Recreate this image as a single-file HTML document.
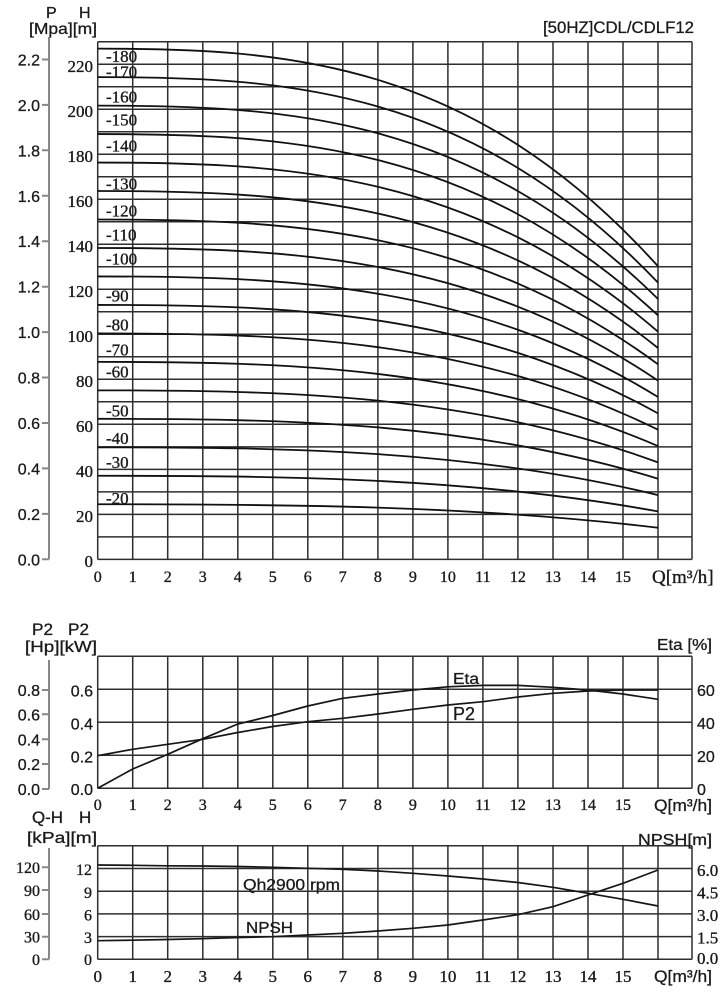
<!DOCTYPE html>
<html><head><meta charset="utf-8"><style>
html,body{margin:0;padding:0;background:#fff;}
svg{display:block;}
.s{font-family:"Liberation Sans",Arial,sans-serif;fill:#1a1a1a;stroke:#1a1a1a;stroke-width:0.3;}
.r{font-family:"Liberation Serif","Times New Roman",serif;fill:#1a1a1a;stroke:#1a1a1a;stroke-width:0.35;}
</style></head><body>
<svg width="728" height="1000" viewBox="0 0 728 1000" xmlns="http://www.w3.org/2000/svg">
<rect width="728" height="1000" fill="#fff"/>

<!-- ============ TOP CHART ============ -->
<g stroke="#2e2e2e" stroke-width="1.5" fill="none">
<path d="M97.7 559.4H692M97.7 536.9H692M97.7 514.4H692M97.7 491.9H692M97.7 469.4H692M97.7 446.9H692M97.7 424.3H692M97.7 401.8H692M97.7 379.3H692M97.7 356.8H692M97.7 334.3H692M97.7 311.8H692M97.7 289.3H692M97.7 266.8H692M97.7 244.3H692M97.7 221.8H692M97.7 199.2H692M97.7 176.7H692M97.7 154.2H692M97.7 131.7H692M97.7 109.2H692M97.7 86.7H692M97.7 64.2H692M97.7 41.7H692"/>
<path d="M97.7 41.7V559.4M132.7 41.7V559.4M167.7 41.7V559.4M202.8 41.7V559.4M237.8 41.7V559.4M272.8 41.7V559.4M307.8 41.7V559.4M342.8 41.7V559.4M377.9 41.7V559.4M412.9 41.7V559.4M447.9 41.7V559.4M482.9 41.7V559.4M517.9 41.7V559.4M553 41.7V559.4M588 41.7V559.4M623 41.7V559.4M658 41.7V559.4M692 41.7V559.4"/>
</g>
<g stroke="#111" stroke-width="1.8" fill="none">
<path d="M97.7 504.25C284.5 504.25 471.2 505.39 658 527.75"/>
<path d="M97.7 475.78C284.5 475.78 471.2 477.51 658 511.41"/>
<path d="M97.7 447.3C284.5 447.3 471.2 449.62 658 495.07"/>
<path d="M97.7 418.82C284.5 418.82 471.2 421.73 658 478.72"/>
<path d="M97.7 390.35C284.5 390.35 471.2 393.84 658 462.38"/>
<path d="M97.7 361.88C284.5 361.88 471.2 365.96 658 446.04"/>
<path d="M97.7 333.4C284.5 333.4 471.2 338.07 658 429.7"/>
<path d="M97.7 304.93C284.5 304.93 471.2 310.19 658 413.36"/>
<path d="M97.7 276.45C284.5 276.45 471.2 282.3 658 397.01"/>
<path d="M97.7 247.97C284.5 247.97 471.2 254.41 658 380.67"/>
<path d="M97.7 219.5C284.5 219.5 471.2 226.53 658 364.33"/>
<path d="M97.7 191.02C284.5 191.02 471.2 198.63 658 347.99"/>
<path d="M97.7 162.55C284.5 162.55 471.2 170.75 658 331.65"/>
<path d="M97.7 134.07C284.5 134.07 471.2 142.86 658 315.3"/>
<path d="M97.7 105.6C284.5 105.6 471.2 114.98 658 298.96"/>
<path d="M97.7 77.12C284.5 77.12 471.2 87.09 658 282.62"/>
<path d="M97.7 48.65C284.5 48.65 471.2 59.21 658 266.28"/>
</g>
<!-- stage labels -->
<g class="r" font-size="17">
<text x="106" y="62">-180</text>
<text x="106" y="77.5">-170</text>
<text x="106" y="102.5">-160</text>
<text x="106" y="125.5">-150</text>
<text x="106" y="151.5">-140</text>
<text x="106" y="189.5">-130</text>
<text x="106" y="216.5">-120</text>
<text x="106" y="240.5">-110</text>
<text x="106" y="264.5">-100</text>
<text x="106" y="301.5">-90</text>
<text x="106" y="330.5">-80</text>
<text x="106" y="355.5">-70</text>
<text x="106" y="377.5">-60</text>
<text x="106" y="416.5">-50</text>
<text x="106" y="444">-40</text>
<text x="106" y="468">-30</text>
<text x="106" y="504">-20</text>
</g>
<!-- P axis -->
<g stroke="#888" stroke-width="2" fill="none">
<path d="M49 37V559.3"/>
<path d="M42 559.3H49M42 513.9H49M42 468.4H49M42 423H49M42 377.5H49M42 332.1H49M42 286.7H49M42 241.2H49M42 195.8H49M42 150.3H49M42 104.9H49M42 59.5H49"/>
</g>
<g class="s" font-size="16" text-anchor="end">
<text x="40" y="565.3">0.0</text>
<text x="40" y="519.9">0.2</text>
<text x="40" y="474.4">0.4</text>
<text x="40" y="429">0.6</text>
<text x="40" y="383.5">0.8</text>
<text x="40" y="338.1">1.0</text>
<text x="40" y="292.7">1.2</text>
<text x="40" y="247.2">1.4</text>
<text x="40" y="201.8">1.6</text>
<text x="40" y="156.3">1.8</text>
<text x="40" y="110.9">2.0</text>
<text x="40" y="65.5">2.2</text>
</g>
<g class="r" font-size="17" text-anchor="end">
<text x="93" y="567">0</text>
<text x="93" y="522">20</text>
<text x="93" y="477">40</text>
<text x="93" y="432">60</text>
<text x="93" y="387">80</text>
<text x="93" y="342">100</text>
<text x="93" y="297">120</text>
<text x="93" y="252">140</text>
<text x="93" y="207">160</text>
<text x="93" y="162">180</text>
<text x="93" y="117">200</text>
<text x="93" y="72">220</text>
</g>
<text class="s" x="46" y="18" font-size="16">P</text>
<text class="s" x="79" y="18" font-size="16">H</text>
<text class="s" x="29" y="34" font-size="16" textLength="68" lengthAdjust="spacingAndGlyphs">[Mpa][m]</text>
<text class="s" x="543" y="33" font-size="17" textLength="151" lengthAdjust="spacingAndGlyphs">[50HZ]CDL/CDLF12</text>
<g class="r" font-size="16" text-anchor="middle">
<text x="97.7" y="582">0</text><text x="132.7" y="582">1</text><text x="167.7" y="582">2</text><text x="202.8" y="582">3</text><text x="237.8" y="582">4</text><text x="272.8" y="582">5</text><text x="307.8" y="582">6</text><text x="342.8" y="582">7</text><text x="377.9" y="582">8</text><text x="412.9" y="582">9</text><text x="447.9" y="582">10</text><text x="482.9" y="582">11</text><text x="517.9" y="582">12</text><text x="553" y="582">13</text><text x="588" y="582">14</text><text x="623" y="582">15</text>
</g>
<text class="r" x="652" y="583" font-size="19">Q[m³/h]</text>

<!-- ============ MIDDLE CHART ============ -->
<g stroke="#2e2e2e" stroke-width="1.5" fill="none">
<path d="M97.7 656.3H692M97.7 689.3H692M97.7 722.3H692M97.7 755.3H692M97.7 788.3H692"/>
<path d="M97.7 656.3V788.3M132.7 656.3V788.3M167.7 656.3V788.3M202.8 656.3V788.3M237.8 656.3V788.3M272.8 656.3V788.3M307.8 656.3V788.3M342.8 656.3V788.3M377.9 656.3V788.3M412.9 656.3V788.3M447.9 656.3V788.3M482.9 656.3V788.3M517.9 656.3V788.3M553 656.3V788.3M588 656.3V788.3M623 656.3V788.3M658 656.3V788.3M692 656.3V788.3"/>
</g>
<g stroke="#161616" stroke-width="1.7" fill="none" stroke-linejoin="round">
<polyline points="97.7,788.3 132.7,769 167.7,754.3 202.8,738.7 237.8,724 272.8,715.5 307.8,706 342.8,698.3 377.9,694 412.9,690 447.9,686.8 482.9,685.4 517.9,685.4 553,687.3 588,690 623,694 658,699.3"/>
<polyline points="97.7,755.7 132.7,749.3 167.7,744.3 202.8,739.3 237.8,732.5 272.8,726.5 307.8,721.7 342.8,718.3 377.9,714 412.9,709.3 447.9,705 482.9,701.7 517.9,697 553,693.3 588,691 623,690 658,690"/>
</g>
<text class="s" x="453" y="684" font-size="16" textLength="26" lengthAdjust="spacingAndGlyphs">Eta</text>
<text class="s" x="453" y="720" font-size="18" textLength="22" lengthAdjust="spacingAndGlyphs">P2</text>
<g stroke="#888" stroke-width="2" fill="none">
<path d="M49 660V789"/>
<path d="M42 690H49M42 714.3H49M42 739.3H49M42 764H49M42 789H49"/>
</g>
<g class="s" font-size="16" text-anchor="end">
<text x="40" y="696">0.8</text>
<text x="40" y="720.3">0.6</text>
<text x="40" y="745.3">0.4</text>
<text x="40" y="770">0.2</text>
<text x="40" y="795">0.0</text>
<text x="93" y="696.5">0.6</text>
<text x="93" y="729.5">0.4</text>
<text x="93" y="762.5">0.2</text>
<text x="93" y="795">0.0</text>
</g>
<g class="s" font-size="16">
<text x="697" y="696">60</text>
<text x="697" y="729">40</text>
<text x="697" y="762">20</text>
<text x="697" y="795">0</text>
</g>
<text class="s" x="32" y="635" font-size="17" textLength="21" lengthAdjust="spacingAndGlyphs">P2</text>
<text class="s" x="68" y="635" font-size="17" textLength="21" lengthAdjust="spacingAndGlyphs">P2</text>
<text class="s" x="25" y="652" font-size="16" textLength="72" lengthAdjust="spacingAndGlyphs">[Hp][kW]</text>
<text class="s" x="657" y="650" font-size="16" textLength="55" lengthAdjust="spacingAndGlyphs">Eta [%]</text>
<g class="r" font-size="16" text-anchor="middle">
<text x="97.7" y="810">0</text><text x="132.7" y="810">1</text><text x="167.7" y="810">2</text><text x="202.8" y="810">3</text><text x="237.8" y="810">4</text><text x="272.8" y="810">5</text><text x="307.8" y="810">6</text><text x="342.8" y="810">7</text><text x="377.9" y="810">8</text><text x="412.9" y="810">9</text><text x="447.9" y="810">10</text><text x="482.9" y="810">11</text><text x="517.9" y="810">12</text><text x="553" y="810">13</text><text x="588" y="810">14</text><text x="623" y="810">15</text>
</g>
<text class="s" x="654" y="811" font-size="17" textLength="58" lengthAdjust="spacingAndGlyphs">Q[m³/h]</text>

<!-- ============ BOTTOM CHART ============ -->
<g stroke="#2e2e2e" stroke-width="1.5" fill="none">
<path d="M97.7 845.8H692M97.7 868.5H692M97.7 891.2H692M97.7 913.9H692M97.7 936.6H692M97.7 959.3H692"/>
<path d="M97.7 845.8V959.3M132.7 845.8V959.3M167.7 845.8V959.3M202.8 845.8V959.3M237.8 845.8V959.3M272.8 845.8V959.3M307.8 845.8V959.3M342.8 845.8V959.3M377.9 845.8V959.3M412.9 845.8V959.3M447.9 845.8V959.3M482.9 845.8V959.3M517.9 845.8V959.3M553 845.8V959.3M588 845.8V959.3M623 845.8V959.3M658 845.8V959.3M692 845.8V959.3"/>
</g>
<g stroke="#161616" stroke-width="1.7" fill="none" stroke-linejoin="round">
<polyline points="97.7,865 132.7,865.3 167.7,865.8 202.8,866 237.8,866.5 272.8,867.3 307.8,868.3 342.8,869.3 377.9,871 412.9,873.3 447.9,876 482.9,879 517.9,882.5 553,887.3 588,893.3 623,899.3 658,906"/>
<polyline points="97.7,940.7 132.7,940.2 167.7,939.5 202.8,938.7 237.8,937.5 272.8,936.7 307.8,935 342.8,933.3 377.9,931 412.9,928.3 447.9,925 482.9,920 517.9,914.7 553,906.7 588,895 623,883.3 658,870"/>
</g>
<text class="s" x="243" y="890" font-size="16" textLength="97" lengthAdjust="spacingAndGlyphs">Qh2900 rpm</text>
<text class="s" x="246" y="933" font-size="16" textLength="47" lengthAdjust="spacingAndGlyphs">NPSH</text>
<g stroke="#888" stroke-width="2" fill="none">
<path d="M49 848V959.3"/>
<path d="M42 867.3H49M42 890H49M42 914H49M42 936.7H49M42 959.3H49"/>
</g>
<g class="r" font-size="16" text-anchor="end">
<text x="40" y="873">120</text>
<text x="40" y="896">90</text>
<text x="40" y="920">60</text>
<text x="40" y="942.7">30</text>
<text x="40" y="965">0</text>
<text x="92" y="875">12</text>
<text x="92" y="898">9</text>
<text x="92" y="920.5">6</text>
<text x="92" y="943">3</text>
<text x="92" y="965">0</text>
</g>
<g class="r" font-size="17">
<text x="697" y="876">6.0</text>
<text x="697" y="898.5">4.5</text>
<text x="697" y="921">3.0</text>
<text x="697" y="943.5">1.5</text>
<text x="697" y="964">0.0</text>
</g>
<text class="s" x="32" y="823" font-size="17" textLength="31" lengthAdjust="spacingAndGlyphs">Q-H</text>
<text class="s" x="79" y="823" font-size="17">H</text>
<text class="s" x="27" y="843" font-size="16" textLength="70" lengthAdjust="spacingAndGlyphs">[kPa][m]</text>
<text class="s" x="638" y="845" font-size="16" textLength="74" lengthAdjust="spacingAndGlyphs">NPSH[m]</text>
<g class="r" font-size="17" text-anchor="middle">
<text x="97.7" y="982">0</text><text x="132.7" y="982">1</text><text x="167.7" y="982">2</text><text x="202.8" y="982">3</text><text x="237.8" y="982">4</text><text x="272.8" y="982">5</text><text x="307.8" y="982">6</text><text x="342.8" y="982">7</text><text x="377.9" y="982">8</text><text x="412.9" y="982">9</text><text x="447.9" y="982">10</text><text x="482.9" y="982">11</text><text x="517.9" y="982">12</text><text x="553" y="982">13</text><text x="588" y="982">14</text><text x="623" y="982">15</text>
</g>
<text class="s" x="654" y="982" font-size="17" textLength="58" lengthAdjust="spacingAndGlyphs">Q[m³/h]</text>
</svg>
</body></html>
